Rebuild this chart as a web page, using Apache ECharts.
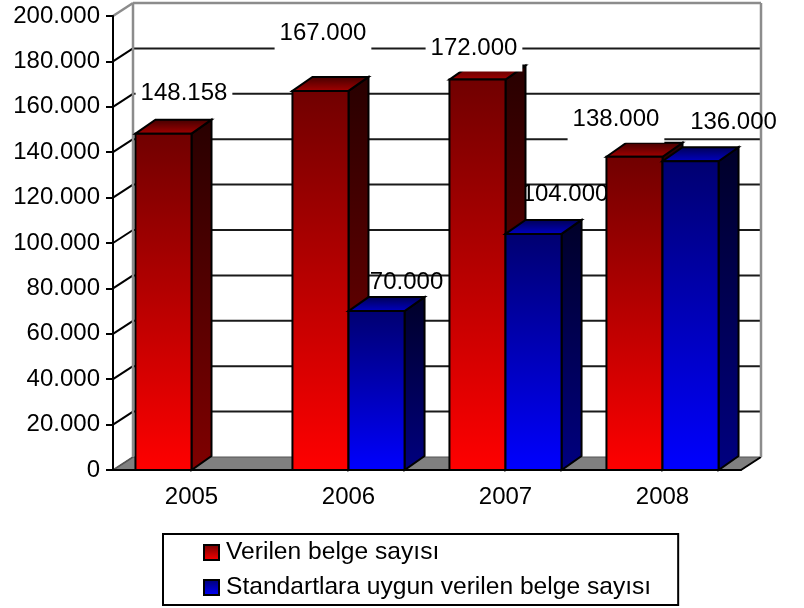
<!DOCTYPE html>
<html>
<head>
<meta charset="utf-8">
<style>
  html, body { margin: 0; padding: 0; background: #fff; }
  #chart { width: 804px; height: 608px; }
</style>
<script src="https://cdn.jsdelivr.net/npm/echarts@6/dist/echarts.min.js"></script>
</head>
<body>
<div id="chart"></div>
<script>
const years = ["2005", "2006", "2007", "2008"];
const issued = [148158, 167000, 172000, 138000];
const compliant = [null, 70000, 104000, 136000];
const yTicks = [0, 20000, 40000, 60000, 80000, 100000, 120000, 140000, 160000, 180000, 200000];
const issuedName = "Verilen belge sayısı";
const compliantName = "Standartlara uygun verilen belge sayısı";

// hand placed value labels, offset from the middle of the bar's top front edge
const issuedLabelOffsets = [[20.5, -43], [2.5, -61], [-3.5, -34], [-18.5, -40]];
const compliantLabelOffsets = [null, [30, -29], [31.5, -39.5], [43, -39]];

const FONT = "24px 'Liberation Sans', Arial, sans-serif";
const WALL_DX = 20;
const WALL_DY = 13;
const BAR_DX = 20;
const BAR_DY = 14;
const WALL_COLOR = "#8c8c8c";

const redColors = { front: ["#700000", "#ff0000"], side: ["#280000", "#800000"], top: ["#400000", "#a80000"] };
const blueColors = { front: ["#000070", "#0000ff"], side: ["#000028", "#000080"], top: ["#000050", "#0000c8"] };

function vertical(colors) {
  return new echarts.graphic.LinearGradient(0, 0, 0, 1, [
    { offset: 0, color: colors[0] },
    { offset: 1, color: colors[1] },
  ]);
}

function poly(points, fill, stroke, lineWidth) {
  return {
    type: "polygon",
    shape: { points: points },
    style: { fill: fill, stroke: stroke, lineWidth: lineWidth },
  };
}

function line(x1, y1, x2, y2, stroke, lineWidth) {
  return {
    type: "line",
    shape: { x1: x1, y1: y1, x2: x2, y2: y2 },
    style: { stroke: stroke, lineWidth: lineWidth },
  };
}

// back wall, floor and the gridlines with their slanted ends
function renderWall(params, api) {
  const value = api.value(0);
  const left = api.coord([0, value]);
  const bandW = api.size([1, 0])[0];
  const x0 = left[0] - bandW / 2;
  const x1 = x0 + bandW * years.length;
  const y = left[1];
  const children = [];
  if (value === 0) {
    children.push(
      poly([[x0, y], [x1, y], [x1 + WALL_DX, y - WALL_DY], [x0 + WALL_DX, y - WALL_DY]], "#808080", "#555", 1),
      line(x0, y, x0 + WALL_DX, y - WALL_DY, "#555", 1.5),
      line(x1, y, x1 + WALL_DX, y - WALL_DY, "#000", 2)
    );
  } else if (value === yTicks[yTicks.length - 1]) {
    const bottom = api.coord([0, 0])[1] - WALL_DY;
    children.push(
      line(x0 + WALL_DX, y - WALL_DY, x0 + WALL_DX, bottom, WALL_COLOR, 2.5),
      line(x1 + WALL_DX, y - WALL_DY, x1 + WALL_DX, bottom, WALL_COLOR, 2.5),
      line(x0 + WALL_DX, y - WALL_DY, x1 + WALL_DX, y - WALL_DY, WALL_COLOR, 2.5),
      line(x0, y, x0 + WALL_DX, y - WALL_DY, WALL_COLOR, 2.5)
    );
  } else {
    children.push(
      line(x0, y, x0 + WALL_DX, y - WALL_DY, "#000", 2),
      line(x0 + WALL_DX, y - WALL_DY, x1 + WALL_DX, y - WALL_DY, "#1a1a1a", 2)
    );
  }
  return { type: "group", children: children };
}

function barRenderer(colors, side) {
  return function (params, api) {
    const value = api.value(1);
    if (isNaN(value)) return null;
    const top = api.coord([api.value(0), value]);
    const base = api.coord([api.value(0), 0]);
    const w = api.size([1, 0])[0] * 0.357;
    const x = side === 0 ? top[0] - w : top[0];
    const y = top[1];
    const b = base[1];
    return {
      type: "group",
      children: [
        poly([[x + w, y], [x + w + BAR_DX, y - BAR_DY], [x + w + BAR_DX, b - BAR_DY], [x + w, b]], vertical(colors.side), "#000", 2),
        poly([[x, y], [x + BAR_DX, y - BAR_DY], [x + w + BAR_DX, y - BAR_DY], [x + w, y]], vertical(colors.top), "#000", 2),
        poly([[x, y], [x + w, y], [x + w, b], [x, b]], vertical(colors.front), "#000", 2),
      ],
    };
  };
}

function formatValue(value) {
  return value === 0 ? "0" : (value / 1000).toFixed(3);
}

function labelRenderer(offsets, side, boxed) {
  return function (params, api) {
    const value = api.value(1);
    const offset = offsets[api.value(0)];
    if (isNaN(value) || !offset) return null;
    const top = api.coord([api.value(0), value]);
    const w = api.size([1, 0])[0] * 0.357;
    const cx = side === 0 ? top[0] - w / 2 : top[0] + w / 2;
    return {
      type: "text",
      style: {
        text: formatValue(value),
        x: cx + offset[0],
        // uneven padding moves the text up by 3, so put that back
        y: top[1] + offset[1] + (boxed ? 3 : 0),
        align: "center",
        verticalAlign: "middle",
        font: FONT,
        fill: "#000",
        backgroundColor: boxed ? "#fff" : null,
        padding: boxed ? [8, 5, 14, 5] : 0,
      },
    };
  };
}

const issuedData = issued.map((v, i) => [i, v]);
const compliantData = compliant.map((v, i) => [i, v]);

const chart = echarts.init(document.getElementById("chart"));
chart.setOption({
  animation: false,
  backgroundColor: "#fff",
  grid: { left: 113, right: 63, top: 16, bottom: 138 },
  legend: {
    left: 163,
    top: 534,
    orient: "vertical",
    selectedMode: false,
    borderColor: "#000",
    borderWidth: 2,
    backgroundColor: "#fff",
    padding: [6, 27, 5, 40],
    itemWidth: 15,
    itemHeight: 15,
    itemGap: 10,
    textStyle: { color: "#000", fontFamily: "'Liberation Sans', Arial, sans-serif", fontSize: 24.6, padding: [0, 0, 0, 2] },
    data: [
      { name: issuedName, icon: "rect", itemStyle: { color: vertical(["#700000", "#ff0000"]), borderColor: "#000", borderWidth: 2 } },
      { name: compliantName, icon: "rect", itemStyle: { color: vertical(["#000070", "#0000ff"]), borderColor: "#000", borderWidth: 2 } },
    ],
  },
  xAxis: {
    type: "category",
    data: years,
    z: 1,
    axisLine: { lineStyle: { color: "#000", width: 2 } },
    axisTick: { length: 9, alignWithLabel: false, lineStyle: { color: "#000", width: 2 } },
    axisLabel: { color: "#000", fontFamily: "'Liberation Sans', Arial, sans-serif", fontSize: 24, margin: 15 },
    splitLine: { show: false },
  },
  yAxis: {
    type: "value",
    min: 0,
    max: 200000,
    interval: 20000,
    z: 1,
    axisLine: { show: true, lineStyle: { color: "#000", width: 2 } },
    axisTick: { show: true, length: 7, lineStyle: { color: "#000", width: 2 } },
    axisLabel: {
      color: "#000",
      fontFamily: "'Liberation Sans', Arial, sans-serif",
      fontSize: 24,
      margin: 13,
      formatter: formatValue,
    },
    splitLine: { show: false },
  },
  series: [
    { type: "custom", z: 0, silent: true, renderItem: renderWall, data: yTicks.map((v) => [v]), encode: { x: -1, y: 0 } },
    { type: "custom", z: 2, silent: true, renderItem: labelRenderer(compliantLabelOffsets, 1, false), data: compliantData, encode: { x: 0, y: 1 } },
    { type: "custom", z: 3, name: issuedName, renderItem: barRenderer(redColors, 0), data: issuedData, encode: { x: 0, y: 1 }, itemStyle: { color: "#ff0000" } },
    { type: "custom", z: 3, name: compliantName, renderItem: barRenderer(blueColors, 1), data: compliantData, encode: { x: 0, y: 1 }, itemStyle: { color: "#0000ff" } },
    { type: "custom", z: 4, silent: true, renderItem: labelRenderer(issuedLabelOffsets, 0, true), data: issuedData, encode: { x: 0, y: 1 } },
  ],
});
window.addEventListener("resize", () => chart.resize());
</script>
</body>
</html>
